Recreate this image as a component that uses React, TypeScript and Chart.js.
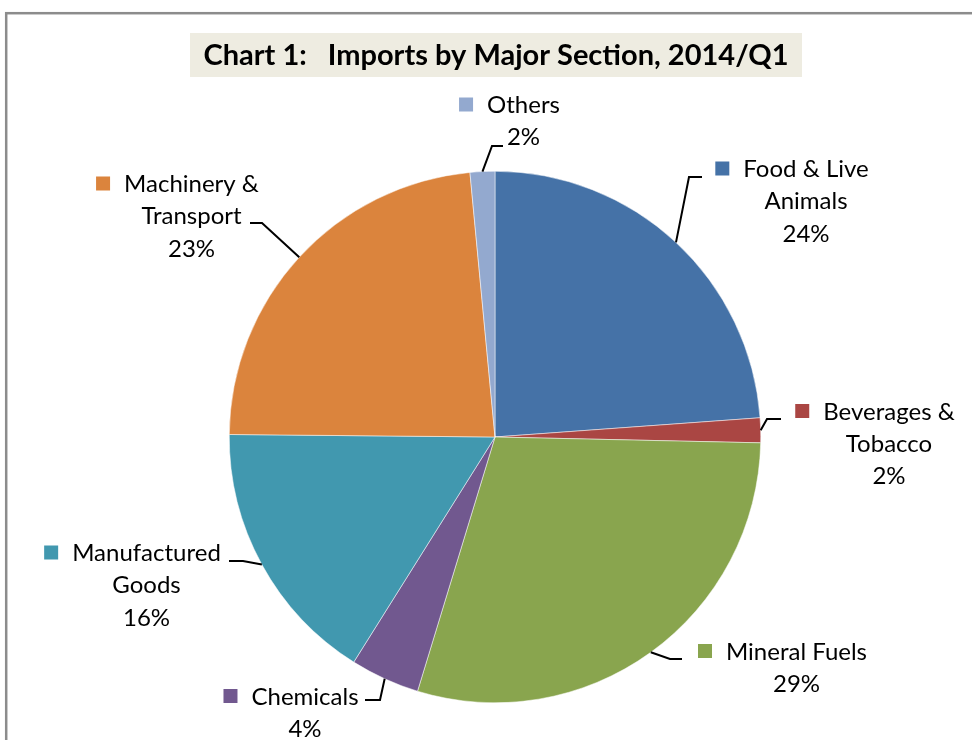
import React, { useEffect, useRef } from "react";
import { Chart, registerables } from "chart.js";

Chart.register(...registerables);

const TITLE = "Chart 1:   Imports by Major Section, 2014/Q1";
const CATEGORIES = [
  "Food & Live Animals",
  "Beverages & Tobacco",
  "Mineral Fuels",
  "Chemicals",
  "Manufactured Goods",
  "Machinery & Transport",
  "Others",
];
const LABEL_LINES = [
  ["Food & Live", "Animals"],
  ["Beverages &", "Tobacco"],
  ["Mineral Fuels"],
  ["Chemicals"],
  ["Manufactured", "Goods"],
  ["Machinery &", "Transport"],
  ["Others"],
];
const VALUES = [23.8, 1.5, 29.3, 4.2, 16.2, 23.3, 1.5];
const COLORS = ["#4572A7", "#AA4643", "#89A54E", "#71588F", "#4198AF", "#DB843D", "#93A9CF"];

// label layout, offsets relative to pie centre: [textX, textY, elbowX, elbowY, endX, endY]
const LABEL_POS = [
  [311, -268.5, 194, -260, 207, -260],
  [394, -26, 272, -18, 286, -18],
  [301.5, 214, 175, 222, 187, 222],
  [-190, 259, -115, 263, -130, 263],
  [-348.5, 115.5, -252, 124, -266, 124],
  [-303.5, -253.5, -233, -214, -245, -214],
  [28.5, -332.5, -3, -291, 8, -291],
];

const FONT = "Lato, 'Open Sans', sans-serif";

const decorPlugin = {
  id: "decor",
  beforeDraw(chart: any) {
    const ctx = chart.ctx;
    ctx.save();
    ctx.fillStyle = "#ffffff";
    ctx.fillRect(0, 0, chart.width, chart.height);
    // frame
    ctx.strokeStyle = "#8c8c8c";
    ctx.lineWidth = 2.5;
    ctx.strokeRect(6.2, 13.2, 1200, 1200);
    // title box
    ctx.fillStyle = "#EEECE1";
    ctx.fillRect(190, 33, 612, 44);
    ctx.fillStyle = "#000";
    ctx.font = `bold 29px ${FONT}`;
    ctx.textAlign = "center";
    ctx.textBaseline = "alphabetic";
    ctx.fillText(TITLE, 496, 65);
    ctx.restore();
  },
  afterDraw(chart: any) {
    const ctx = chart.ctx;
    const meta = chart.getDatasetMeta(0);
    const total = VALUES.reduce((a, b) => a + b, 0);
    ctx.save();
    meta.data.forEach((arc: any, i: number) => {
      const { x: cx, y: cy, startAngle, endAngle, outerRadius } = arc.getProps(
        ["x", "y", "startAngle", "endAngle", "outerRadius"],
        true
      );
      const mid = (startAngle + endAngle) / 2;
      const sx = cx + Math.cos(mid) * outerRadius;
      const sy = cy + Math.sin(mid) * outerRadius;
      const p = LABEL_POS[i];
      // leader
      ctx.strokeStyle = "#000";
      ctx.lineWidth = 2;
      ctx.beginPath();
      ctx.moveTo(sx, sy);
      ctx.lineTo(cx + p[2], cy + p[3]);
      ctx.lineTo(cx + p[4], cy + p[5]);
      ctx.stroke();
      // text
      const lines = [...LABEL_LINES[i], Math.round((VALUES[i] / total) * 100) + "%"];
      ctx.font = `24px ${FONT}`;
      ctx.fillStyle = "#000";
      ctx.textAlign = "center";
      ctx.textBaseline = "alphabetic";
      const tx = cx + p[0];
      const ty = cy + p[1];
      lines.forEach((ln, k) => {
        ctx.fillText(ln, tx, ty + 8.5 + k * 32.3);
      });
      const w = ctx.measureText(lines[0]).width;
      ctx.fillStyle = COLORS[i];
      ctx.fillRect(tx - w / 2 - 14 - 14, ty - 7, 14, 14);
    });
    ctx.restore();
  },
};

export default function App() {
  const ref = useRef<HTMLCanvasElement>(null);
  useEffect(() => {
    if (!ref.current) return;
    const chart = new Chart(ref.current, {
      type: "pie",
      data: {
        labels: CATEGORIES,
        datasets: [
          {
            data: VALUES,
            backgroundColor: COLORS,
            borderColor: "#ffffff",
            borderWidth: 0.5,
          },
        ],
      },
      options: {
        responsive: false,
        animation: false,
        layout: { padding: { left: 229, right: 211, top: 171, bottom: 37 } },
        plugins: {
          legend: { display: false },
          tooltip: { enabled: false },
          title: { display: false },
        },
      },
      plugins: [decorPlugin],
    });
    return () => chart.destroy();
  }, []);
  return (
    <div style={{ position: "absolute", left: 0, top: 0, width: 972, height: 740 }}>
      <canvas ref={ref} width={972} height={740} style={{ display: "block" }} />
    </div>
  );
}
